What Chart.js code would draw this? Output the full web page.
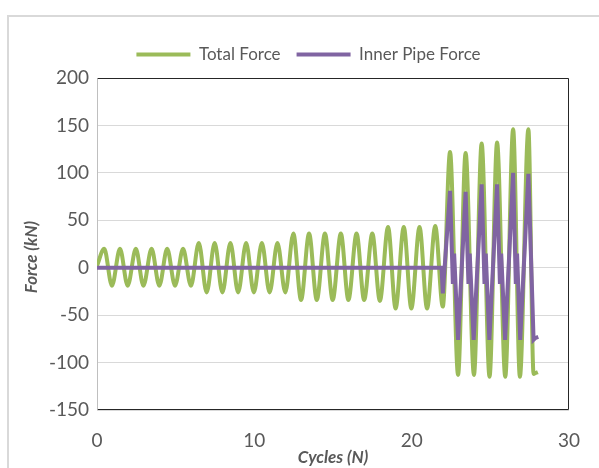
<!DOCTYPE html>
<html>
<head>
<meta charset="utf-8">
<script src="https://cdn.jsdelivr.net/npm/chart.js@4.4.0/dist/chart.umd.min.js"></script>
<style>
  html, body { margin: 0; padding: 0; background: #fff; }
  body { width: 599px; height: 468px; position: relative; overflow: hidden; }
  .frame { position: absolute; left: 7px; top: 15px; width: 640px; height: 500px; border: 2px solid #d9d9d9; box-sizing: border-box; }
  .wrap { position: absolute; left: 0; top: 0; width: 599px; height: 468px; }
</style>
</head>
<body>
<div class="frame"></div>
<div class="wrap"><canvas id="myChart" width="599" height="468"></canvas></div>
<script>
// Total force: peaks and troughs (cycle, kN)
const totalCycles = [0, 0.46, 0.95, 1.46, 1.95, 2.47, 2.95, 3.47, 3.96, 4.46, 4.96, 5.47, 5.97,
  6.47, 6.97, 7.48, 7.97, 8.48, 8.97, 9.48, 9.97, 10.48, 10.97, 11.47, 11.97,
  12.48, 12.97, 13.48, 13.97, 14.49, 14.98, 15.5, 15.98, 16.5, 16.98, 17.5, 17.98,
  18.5, 18.98, 19.5, 19.98, 20.5, 20.98, 21.5, 21.98,
  22.44, 22.95, 23.43, 23.96, 24.45, 24.95, 25.43, 25.95, 26.45, 26.88, 27.42, 27.75, 27.88, 28.02];
const totalForce = [2, 20, -19, 20, -19, 20, -19, 20, -19, 20, -19, 20, -19,
  26, -26, 26, -26, 26, -26, 26, -26, 26, -26, 26, -26,
  36, -34, 36, -34, 36, -34, 36, -34, 36, -34, 36, -35,
  43, -43, 43, -43, 43, -43, 44, -41,
  122, -113, 121, -113, 131, -115, 132, -115, 146, -115, 146, -112, -111, -110];

// Inner pipe force
const innerCycles = [0, 21.9, 21.98, 22.44, 22.62, 22.7, 22.95, 23.43, 23.61, 23.69, 23.94,
  24.45, 24.63, 24.71, 24.94, 25.43, 25.61, 25.69, 25.94, 26.45, 26.62, 26.7, 26.9,
  27.42, 27.75, 27.88, 28.05];
const innerForce = [0, 0, -27, 81, -17, 15, -76, 80, -17, 15, -76,
  88, -17, 15, -76, 88, -17, 15, -76, 100, -17, 15, -76,
  99, -76, -74, -73];

const xTicks = [0, 10, 20, 30];
const yTicks = [200, 150, 100, 50, 0, -50, -100, -150];

const green = '#9bbb59';
const purple = '#8064a2';
const textGrey = '#595959';
const titleFont = 'italic bold 17px Lato';

const toPoints = (xs, ys) => xs.map((x, i) => ({ x: x, y: ys[i] }));

// box round the plot area, grey on the left like the value axis
const plotBorder = {
  id: 'plotBorder',
  beforeInit(chart) {
    // a bit more room under the legend
    const fit = chart.legend.fit;
    chart.legend.fit = function () { fit.call(this); this.height += 5; };
  },
  afterLayout(chart) {
    // legend is centred on the whole frame in the original, not the plot
    chart.legend.left += 24;
    chart.legend.right += 24;
  },
  beforeDatasetsDraw(chart) {
    const { ctx, chartArea: a } = chart;
    const l = Math.round(a.left) + 0.5, r = Math.round(a.right) - 0.5;
    const t = Math.round(a.top) + 0.5, b = Math.round(a.bottom) - 0.5;
    ctx.save();
    ctx.lineWidth = 1;
    ctx.strokeStyle = '#262626';
    ctx.beginPath();
    ctx.moveTo(l, t); ctx.lineTo(r, t); ctx.lineTo(r, b); ctx.lineTo(l, b);
    ctx.stroke();
    ctx.strokeStyle = '#bfbfbf';
    ctx.beginPath();
    ctx.moveTo(l, t); ctx.lineTo(l, b);
    ctx.stroke();
    ctx.restore();
  },
  afterDraw(chart) {
    // y title sits a little below the middle of the plot in the original
    const { ctx, chartArea: a } = chart;
    ctx.save();
    ctx.translate(32, (a.top + a.bottom) / 2 + 13);
    ctx.rotate(-Math.PI / 2);
    ctx.font = titleFont;
    ctx.fillStyle = textGrey;
    ctx.textAlign = 'center';
    ctx.textBaseline = 'middle';
    ctx.fillText('Force (kN)', 0, 0);
    ctx.restore();
  }
};

const ctx = document.getElementById('myChart').getContext('2d');
const chart = new Chart(ctx, {
  type: 'line',
  data: {
    datasets: [
      {
        label: 'Total Force',
        data: toPoints(totalCycles, totalForce),
        borderColor: green,
        backgroundColor: green,
        borderWidth: 4,
        pointRadius: 0,
        cubicInterpolationMode: 'monotone',
        order: 1
      },
      {
        label: 'Inner Pipe Force',
        data: toPoints(innerCycles, innerForce),
        borderColor: purple,
        backgroundColor: purple,
        borderWidth: 4,
        pointRadius: 0,
        tension: 0,
        order: 0
      }
    ]
  },
  options: {
    responsive: false,
    animation: false,
    devicePixelRatio: 1,
    layout: { padding: { top: 30, right: 30, left: 0, bottom: 0 } },
    plugins: {
      tooltip: { enabled: false },
      legend: {
        position: 'top',
        labels: {
          color: textGrey,
          font: { family: 'Lato', size: 17 },
          boxWidth: 54,
          boxHeight: 4,
          padding: 16,
          sort: (a, b) => a.datasetIndex - b.datasetIndex,
          generateLabels: (c) => Chart.defaults.plugins.legend.labels.generateLabels(c)
            .map(l => Object.assign(l, { lineWidth: 0 }))
        }
      }
    },
    scales: {
      x: {
        type: 'linear',
        min: 0,
        max: 30,
        afterFit: (s) => { s.height = 58; },
        afterBuildTicks: (s) => { s.ticks = xTicks.map(v => ({ value: v })); },
        grid: { display: false, drawTicks: false },
        border: { display: false },
        ticks: { color: textGrey, font: { family: 'Lato', size: 19 }, padding: 19, maxRotation: 0 },
        title: {
          display: true,
          text: 'Cycles (N)',
          color: textGrey,
          font: { family: 'Lato', size: 17, weight: 'bold', style: 'italic' },
          padding: { top: 0, bottom: 0 }
        }
      },
      y: {
        min: -150,
        max: 200,
        afterFit: (s) => { s.width = 97; },
        afterBuildTicks: (s) => { s.ticks = yTicks.map(v => ({ value: v })); },
        grid: { color: '#d9d9d9', lineWidth: 1, drawTicks: false },
        border: { display: false },
        ticks: { color: textGrey, font: { family: 'Lato', size: 19 }, padding: 8 },
        title: { display: false }
      }
    }
  },
  plugins: [plotBorder]
});
</script>
</body>
</html>
